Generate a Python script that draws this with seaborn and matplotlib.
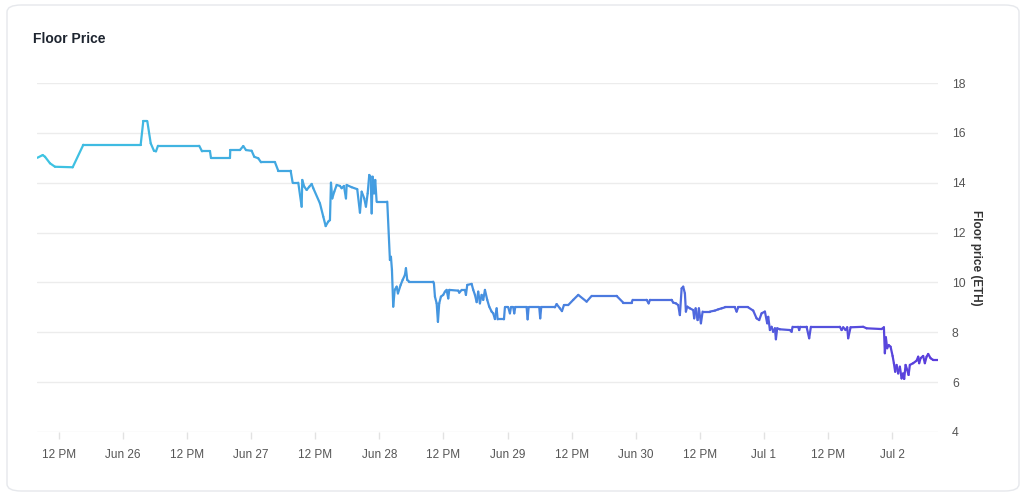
import numpy as np
import pandas as pd
import matplotlib
matplotlib.use("Agg")
import matplotlib.pyplot as plt
import seaborn as sns
from matplotlib.collections import LineCollection
from matplotlib.colors import LinearSegmentedColormap, Normalize
from matplotlib.patches import FancyBboxPatch

# ---------------- data ----------------
start = pd.Timestamp("2023-06-25 00:00")

hours = [7.96, 8.97, 9.40, 10.33, 11.27, 14.58, 16.57, 27.31, 27.80, 28.55,
         29.19, 29.80, 30.18, 30.55, 38.28, 38.79, 40.29, 40.47, 44.03, 44.09,
         45.90, 46.52, 47.03, 48.09, 48.58, 49.33, 49.84, 52.46, 53.07, 55.39,
         55.77, 56.82, 57.45, 57.57, 57.94, 58.39, 58.88, 59.33, 59.63, 60.88,
         61.50, 61.95, 62.43, 62.75, 62.94, 63.18, 63.56, 64.01, 64.62, 64.94,
         65.37, 65.75, 65.88, 66.81, 67.86, 68.37, 68.69, 69.17, 69.49, 69.81,
         70.11, 70.37, 70.56, 70.75, 70.99, 71.23, 71.49, 73.48, 73.98, 74.17,
         74.36, 74.60, 74.87, 75.24, 75.48, 75.99, 76.36, 76.79, 76.98, 77.22,
         77.60, 82.09, 82.22, 82.41, 82.73, 82.97, 83.21, 83.53, 83.96, 84.28,
         84.60, 84.90, 85.09, 86.77, 86.96, 87.41, 88.03, 88.21, 88.46, 89.28,
         89.58, 89.90, 90.22, 90.51, 90.83, 91.15, 91.45, 91.77, 92.20, 92.57,
         93.02, 93.32, 93.64, 93.96, 94.15, 95.33, 95.51, 96.13, 96.45, 96.64,
         97.07, 97.26, 97.44, 99.58, 99.76, 99.95, 101.94, 102.12, 102.31, 104.87,
         105.19, 105.81, 106.19, 106.56, 107.36, 108.30, 109.24, 110.81, 111.75, 116.42,
         117.66, 119.23, 119.42, 122.04, 122.42, 122.66, 126.72, 127.02, 127.53, 127.96,
         128.27, 128.60, 128.89, 129.21, 129.40, 129.64, 130.15, 130.77, 130.95, 131.22,
         131.59, 131.83, 132.21, 132.53, 133.89, 134.83, 135.45, 136.08, 136.70, 138.57,
         138.89, 139.19, 141.06, 142.00, 142.63, 143.12, 143.57, 144.19, 144.62, 144.81,
         145.13, 145.44, 145.74, 146.06, 146.25, 146.49, 146.99, 148.87, 149.19, 149.37,
         150.42, 150.61, 150.80, 151.99, 152.48, 152.80, 158.23, 158.55, 158.85, 159.30,
         159.60, 159.78, 160.23, 162.59, 163.23, 166.04, 166.47, 166.65, 166.84, 167.08,
         167.35, 167.72, 168.10, 168.34, 168.58, 168.84, 169.14, 169.46, 169.78, 170.08,
         170.27, 170.53, 170.83, 171.09, 171.33, 171.95, 172.59, 172.89, 173.07, 173.34,
         173.82, 174.14, 174.46, 174.76, 175.21, 175.70, 176.63]

prices = [15.00, 15.11, 15.04, 14.78, 14.64, 14.62, 15.52, 15.52, 16.47, 16.47,
          15.58, 15.28, 15.26, 15.48, 15.48, 15.26, 15.26, 15.00, 15.00, 15.31,
          15.31, 15.47, 15.31, 15.28, 15.04, 14.98, 14.82, 14.82, 14.48, 14.48,
          14.00, 14.00, 13.04, 14.11, 13.84, 13.71, 13.84, 13.95, 13.78, 13.17,
          12.64, 12.26, 12.44, 12.50, 14.00, 13.37, 13.64, 13.91, 13.87, 13.78,
          13.87, 13.37, 13.91, 13.82, 13.74, 12.80, 13.64, 13.37, 13.04, 13.57,
          14.31, 14.24, 12.77, 14.24, 13.57, 14.11, 13.24, 13.24, 10.90, 11.03,
          10.50, 9.03, 9.70, 9.83, 9.56, 9.90, 10.10, 10.30, 10.57, 10.10,
          10.03, 10.03, 9.96, 9.43, 9.16, 8.42, 9.16, 9.43, 9.50, 9.63,
          9.70, 9.36, 9.70, 9.67, 9.59, 9.70, 9.70, 9.50, 9.90, 9.94,
          9.70, 9.50, 9.21, 9.63, 9.16, 9.50, 9.30, 9.70, 9.30, 9.03,
          8.83, 8.76, 8.53, 8.96, 8.52, 8.52, 9.00, 9.00, 8.76, 9.00,
          9.00, 8.76, 9.00, 9.00, 8.52, 9.00, 9.00, 8.56, 9.00, 9.00,
          9.13, 8.96, 8.85, 9.09, 9.09, 9.30, 9.50, 9.23, 9.46, 9.46,
          9.19, 9.19, 9.30, 9.30, 9.16, 9.30, 9.30, 9.19, 9.16, 9.09,
          8.69, 9.76, 9.83, 9.56, 8.83, 9.03, 8.96, 8.89, 8.56, 8.96,
          8.49, 8.96, 8.36, 8.83, 8.83, 8.87, 8.92, 8.96, 9.00, 9.00,
          8.83, 9.00, 9.00, 8.87, 8.56, 8.49, 8.76, 8.83, 8.36, 8.62,
          8.09, 8.22, 8.02, 8.16, 7.72, 8.16, 8.12, 8.09, 8.02, 8.22,
          8.22, 8.09, 8.22, 8.22, 7.76, 8.22, 8.22, 8.09, 8.20, 8.09,
          8.20, 7.76, 8.20, 8.22, 8.16, 8.13, 8.20, 7.16, 7.80, 7.36,
          7.49, 7.42, 7.05, 6.76, 6.42, 6.69, 6.35, 6.62, 6.15, 6.35,
          6.13, 6.69, 6.49, 6.29, 6.69, 6.76, 6.86, 7.02, 6.76, 6.96,
          7.05, 6.76, 7.02, 7.13, 6.96, 6.89, 6.89]

tick_hours = [12, 24, 36, 48, 60, 72, 84, 96, 108, 120, 132, 144, 156, 168]
tick_labels = ["12 PM", "Jun 26", "12 PM", "Jun 27", "12 PM", "Jun 28", "12 PM",
               "Jun 29", "12 PM", "Jun 30", "12 PM", "Jul 1", "12 PM", "Jul 2"]
y_ticks = [4, 6, 8, 10, 12, 14, 16, 18]
x_range_hours = [7.9, 176.6]

title = "Floor Price"
y_label = "Floor price (ETH)"
line_colors = ["#3ec4e2", "#4690e0", "#5a3cdc"]

# ---------------- plot ----------------
sns.set_theme(style="white")
plt.rcParams["font.family"] = ["Liberation Sans", "DejaVu Sans"]

df = pd.DataFrame({"time": start + pd.to_timedelta(hours, unit="h"),
                   "price": prices})

fig = plt.figure(figsize=(10.24, 4.95), dpi=100)
fig.patch.set_facecolor("white")

card = FancyBboxPatch((7 / 1024, 4 / 495), 1012 / 1024, 486 / 495,
                      boxstyle="round,pad=0,rounding_size=0.014",
                      transform=fig.transFigure, facecolor="white",
                      edgecolor="#e6e8ec", linewidth=1.0, zorder=-10)
fig.patches.append(card)

ax = fig.add_axes([37 / 1024, 63 / 495, 901 / 1024, 349 / 495])
ax.set_zorder(5)
ax.set_facecolor("none")

sns.lineplot(data=df, x="time", y="price", ax=ax, linewidth=1.6)

# replace the single-colour line by a horizontal gradient
line = ax.lines[0]
xy = line.get_xydata()
line.remove()
segs = np.stack([xy[:-1], xy[1:]], axis=1)
cmap = LinearSegmentedColormap.from_list("grad", line_colors)
xs = (xy[:-1, 0] + xy[1:, 0]) / 2
lc = LineCollection(segs, cmap=cmap, norm=Normalize(xy[:, 0].min(), xy[:, 0].max()),
                    linewidth=1.6, capstyle="round", joinstyle="round", zorder=3)
lc.set_array(xs)
ax.add_collection(lc)

ax.set_xlim(start + pd.Timedelta(hours=x_range_hours[0]),
            start + pd.Timedelta(hours=x_range_hours[1]))
ax.set_ylim(y_ticks[0], y_ticks[-1])

ax.set_xticks([start + pd.Timedelta(hours=h) for h in tick_hours])
ax.set_xticklabels(tick_labels)
ax.set_yticks(y_ticks)
ax.set_yticklabels([str(v) for v in y_ticks])

ax.yaxis.tick_right()
ax.yaxis.set_label_position("right")
ax.set_xlabel("")
ax.set_ylabel(y_label, rotation=270, labelpad=12, fontsize=8.5,
              fontweight="bold", color="#333333")

ax.grid(axis="y", color="#ececec", linewidth=1.0)
ax.grid(axis="x", visible=False)
for s in ax.spines.values():
    s.set_visible(False)

ax.tick_params(axis="x", length=5, width=1, color="#e2e2e2", pad=7,
               labelsize=8.5, labelcolor="#555555", bottom=True)
ax.tick_params(axis="y", length=0, pad=10, labelsize=8.8, labelcolor="#555555")

fig.text(33 / 1024, 1 - 39 / 495, title, fontsize=10, fontweight="bold",
         color="#1e2530", va="center", ha="left")

fig.savefig("out.png", dpi=100, facecolor="white")
